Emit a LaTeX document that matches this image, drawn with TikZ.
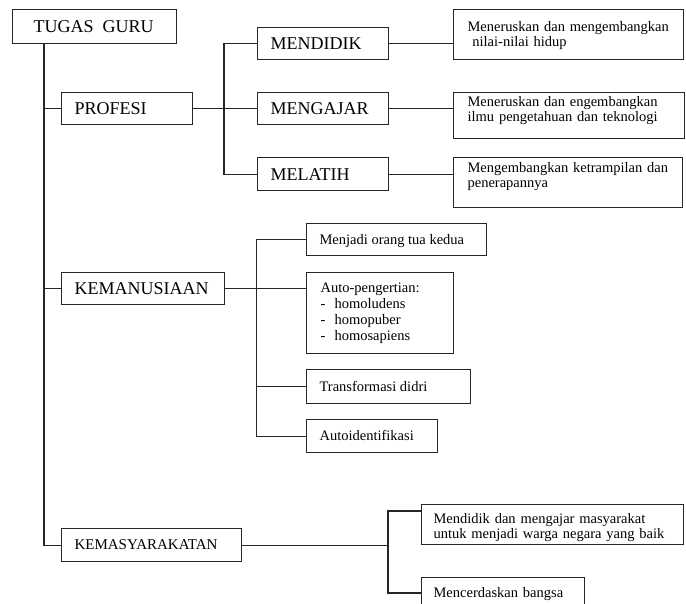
\documentclass[tikz,border=0pt]{standalone}
\usepackage{fontspec}
\setmainfont{Liberation Serif}
\begin{document}
\begin{tikzpicture}[x=1pt,y=-1pt, line width=1.15pt, draw=black!85,
  bx/.style={draw=black!85, inner sep=0pt, anchor=north west},
  big/.style={font=\fontsize{18}{20}\selectfont, inner sep=0pt, anchor=west, text height=11.9pt, text depth=0pt},
  sml/.style={font=\fontsize{14.5}{15.6}\selectfont, inner sep=0pt, anchor=west, text height=9.6pt, text depth=0pt},
  lbl/.style={font=\fontsize{14.5}{15.6}\selectfont, inner sep=0pt, anchor=base west, align=left, text width=250pt},
]
\useasboundingbox (0,0) rectangle (686,603);
\clip (0,0) rectangle (686,603);

% root
\node[bx, minimum width=164pt, minimum height=34pt] (tg) at (12,9) {};
\node[big] (tgt) at ([xshift=21pt]tg.west) {TUGAS\ \ GURU};

% PROFESI
\node[bx, minimum width=131pt, minimum height=32pt] (prof) at (61,92) {};
\node[big] (proft) at ([xshift=13pt]prof.west) {PROFESI};
\node[bx, minimum width=131pt, minimum height=32pt] (mdk) at (257,27) {};
\node[big] (mdkt) at ([xshift=13pt]mdk.west) {MENDIDIK};
\node[bx, minimum width=131pt, minimum height=32pt] (mgj) at (257,92) {};
\node[big] (mgjt) at ([xshift=13pt]mgj.west) {MENGAJAR};
\node[bx, minimum width=131pt, minimum height=33pt] (mlt) at (257,157) {};
\node[big] (mltt) at ([xshift=13pt]mlt.west) {MELATIH};

\node[bx, minimum width=230pt, minimum height=50pt] (d1) at (453,9) {};
\node[lbl] (d1t) at (467,31) {Meneruskan dan mengembangkan\\\ nilai-nilai hidup};
\node[bx, minimum width=231pt, minimum height=46pt] (d2) at (453,92) {};
\node[lbl] (d2t) at (467,106) {Meneruskan dan engembangkan\\ilmu pengetahuan dan teknologi};
\node[bx, minimum width=229pt, minimum height=50pt] (d3) at (453,157) {};
\node[lbl] (d3t) at (467,172) {Mengembangkan ketrampilan dan\\penerapannya};

% KEMANUSIAAN
\node[bx, minimum width=163pt, minimum height=32pt] (kman) at (61,272) {};
\node[big] (kmant) at ([xshift=13pt]kman.west) {KEMANUSIAAN};
\node[bx, minimum width=180pt, minimum height=32pt] (k1) at (306,223) {};
\node[sml] (k1t) at ([xshift=13pt]k1.west) {Menjadi orang tua kedua};
\node[bx, minimum width=147pt, minimum height=81pt] (k2) at (306,272) {};
\node[lbl, font=\fontsize{14.5}{16.3}\selectfont] (k2t) at (320,292) {Auto-pengertian:\\\makebox[14pt][l]{-}homoludens\\\makebox[14pt][l]{-}homopuber\\\makebox[14pt][l]{-}homosapiens};
\node[bx, minimum width=164pt, minimum height=34pt] (k3) at (306,369) {};
\node[sml] (k3t) at ([xshift=13pt]k3.west) {Transformasi didri};
\node[bx, minimum width=131pt, minimum height=33pt] (k4) at (306,419) {};
\node[sml] (k4t) at ([xshift=13pt]k4.west) {Autoidentifikasi};

% KEMASYARAKATAN
\node[bx, minimum width=180pt, minimum height=33pt] (kmsy) at (61,528) {};
\node[sml, font=\fontsize{15}{16}\selectfont] (kmsyt) at ([xshift=13pt]kmsy.west) {KEMASYARAKATAN};
\node[bx, minimum width=262pt, minimum height=40pt] (m1) at (421,504) {};
\node[lbl] (m1t) at (433,523) {Mendidik dan mengajar masyarakat\\untuk menjadi warga negara yang baik};
\node[bx, minimum width=163pt, minimum height=40pt] (m2) at (421,577) {};
\node[lbl] (m2t) at (433,597) {Mencerdaskan bangsa};

% connectors
\coordinate (tr) at ([xshift=32pt]tg.south west);
\draw (tr) |- (kmsy.west);
\draw (prof.west) -- (prof.west -| tr);
\draw (kman.west) -- (kman.west -| tr);

\draw (prof.east) -- (mgj.west);
\draw (mdk.west) -- ++(-33,0) |- (mlt.west);
\draw (mdk.east) -- (mdk.east -| d1.west);
\draw (mgj.east) -- (mgj.east -| d2.west);
\draw (mlt.east) -- (mlt.east -| d3.west);

\draw (kman.east) -- (kman.east -| k2.west);
\draw (k1.west) -- ++(-49.3,0) |- (k4.west);
\draw (k3.west) -- ++(-49.3,0);

\coordinate (kv) at ([xshift=-33pt]m1.west);
\draw (kmsy.east) -- (kmsy.east -| kv);
\draw ([yshift=-7pt]m1.north west) -- ++(-33,0) |- ([yshift=-16pt]m2.north west);
\end{tikzpicture}
\end{document}
